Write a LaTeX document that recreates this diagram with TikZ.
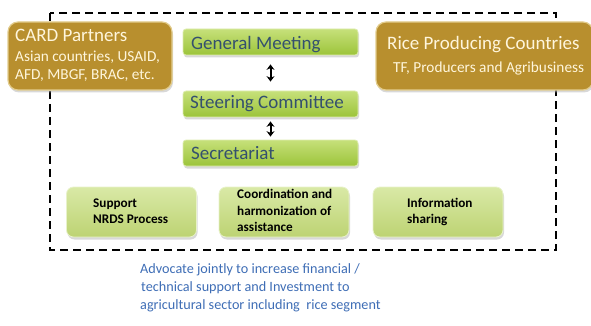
\documentclass[tikz,border=0pt]{standalone}
\usepackage{fontspec}
\setmainfont{Carlito}
\usetikzlibrary{shadows,arrows.meta}
\definecolor{gold}{HTML}{B88F2E}
\definecolor{goldedge}{HTML}{E2CC8C}
\definecolor{cream}{HTML}{FFF6DC}
\definecolor{greentop}{HTML}{C6E07A}
\definecolor{greenbot}{HTML}{9CC43A}
\definecolor{paletop}{HTML}{D9E9A6}
\definecolor{palebot}{HTML}{BDD373}
\definecolor{slate}{HTML}{34506E}
\definecolor{advblue}{HTML}{3E6DB5}
\tikzset{
  boxshadow/.style={drop shadow={shadow xshift=1pt, shadow yshift=-2.5pt, fill=black!30}},
  partner/.style={rounded corners=10pt, fill=gold, draw=goldedge, line width=1.2pt, boxshadow},
  organ/.style={rounded corners=3pt, top color=greentop, bottom color=greenbot,
    draw=greentop!60!white, line width=0.8pt, boxshadow,
    minimum width=175pt, minimum height=26pt},
  task/.style={rounded corners=7pt, top color=paletop, bottom color=palebot,
    draw=paletop!60!white, line width=0.8pt, boxshadow,
    minimum width=130pt, minimum height=50pt},
  lbl/.style={anchor=base west, inner sep=0pt},
  ptitle/.style={lbl, text=cream, font=\fontsize{19}{21}\selectfont},
  psub/.style={lbl, text=cream, font=\fontsize{15.3}{17}\selectfont},
  otext/.style={lbl, text=slate, font=\fontsize{19}{21}\selectfont},
  ttext/.style={lbl, text=black, font=\bfseries\fontsize{13.2}{15}\selectfont},
  atext/.style={lbl, text=advblue, font=\fontsize{14.2}{16}\selectfont},
  link/.style={{Stealth[length=5.5pt,width=8pt]}-{Stealth[length=5.5pt,width=8pt]}, line width=2pt},
}
\begin{document}
\begin{tikzpicture}[x=1pt, y=-1pt]
\useasboundingbox (0,0) rectangle (591,326);

% framework boundary
\draw[line width=2pt, dash pattern=on 8pt off 5pt] (50,13) rectangle (556,250);

% partner groups
\node[partner, minimum width=164pt, minimum height=68pt] (card) at (90,56) {};
\node[ptitle] (cardt) at (15,42) {CARD Partners};
\node[psub] (cards1) at (15,62) {Asian countries, USAID,};
\node[psub] (cards2) at (15,80) {AFD, MBGF, BRAC, etc.};
\node[partner, minimum width=217pt, minimum height=68pt] (rice) at (484.5,56) {};
\node[ptitle] (ricet) at (387,50) {Rice Producing Countries};
\node[psub] (rices) at (393,73) {TF, Producers and Agribusiness};

% governing bodies
\node[organ] (gm) at (270.5,42) {};
\node[otext] (gmt) at (191,50) {General Meeting};
\node[organ] (sc) at (270.5,104) {};
\node[otext] (sct) at (190,109) {Steering Committee};
\node[organ] (sec) at (270.5,153) {};
\node[otext] (sect) at (191,159) {Secretariat};

\draw[link, shorten <=9pt, shorten >=9pt] (gm) -- (sc);
\draw[link, shorten <=4pt, shorten >=3pt] (sc) -- (sec);

% activities
\node[task] (nrds) at (131.5,212) {};
\node[ttext] (nrds1) at (93,207) {Support};
\node[ttext] (nrds2) at (93,223) {NRDS Process};
\node[task] (coord) at (284,212) {};
\node[ttext] (coord1) at (237,198) {Coordination and};
\node[ttext] (coord2) at (237,215) {harmonization of};
\node[ttext] (coord3) at (237,231) {assistance};
\node[task] (info) at (438,212) {};
\node[ttext] (info1) at (407,207) {Information};
\node[ttext] (info2) at (407,223) {sharing};

% advocacy statement
\node[atext] (adv1) at (140,273) {Advocate jointly to increase financial /};
\node[atext] (adv2) at (141,291) {technical support and Investment to};
\node[atext] (adv3) at (140,309) {agricultural sector including\ \ rice segment};
\end{tikzpicture}
\end{document}
